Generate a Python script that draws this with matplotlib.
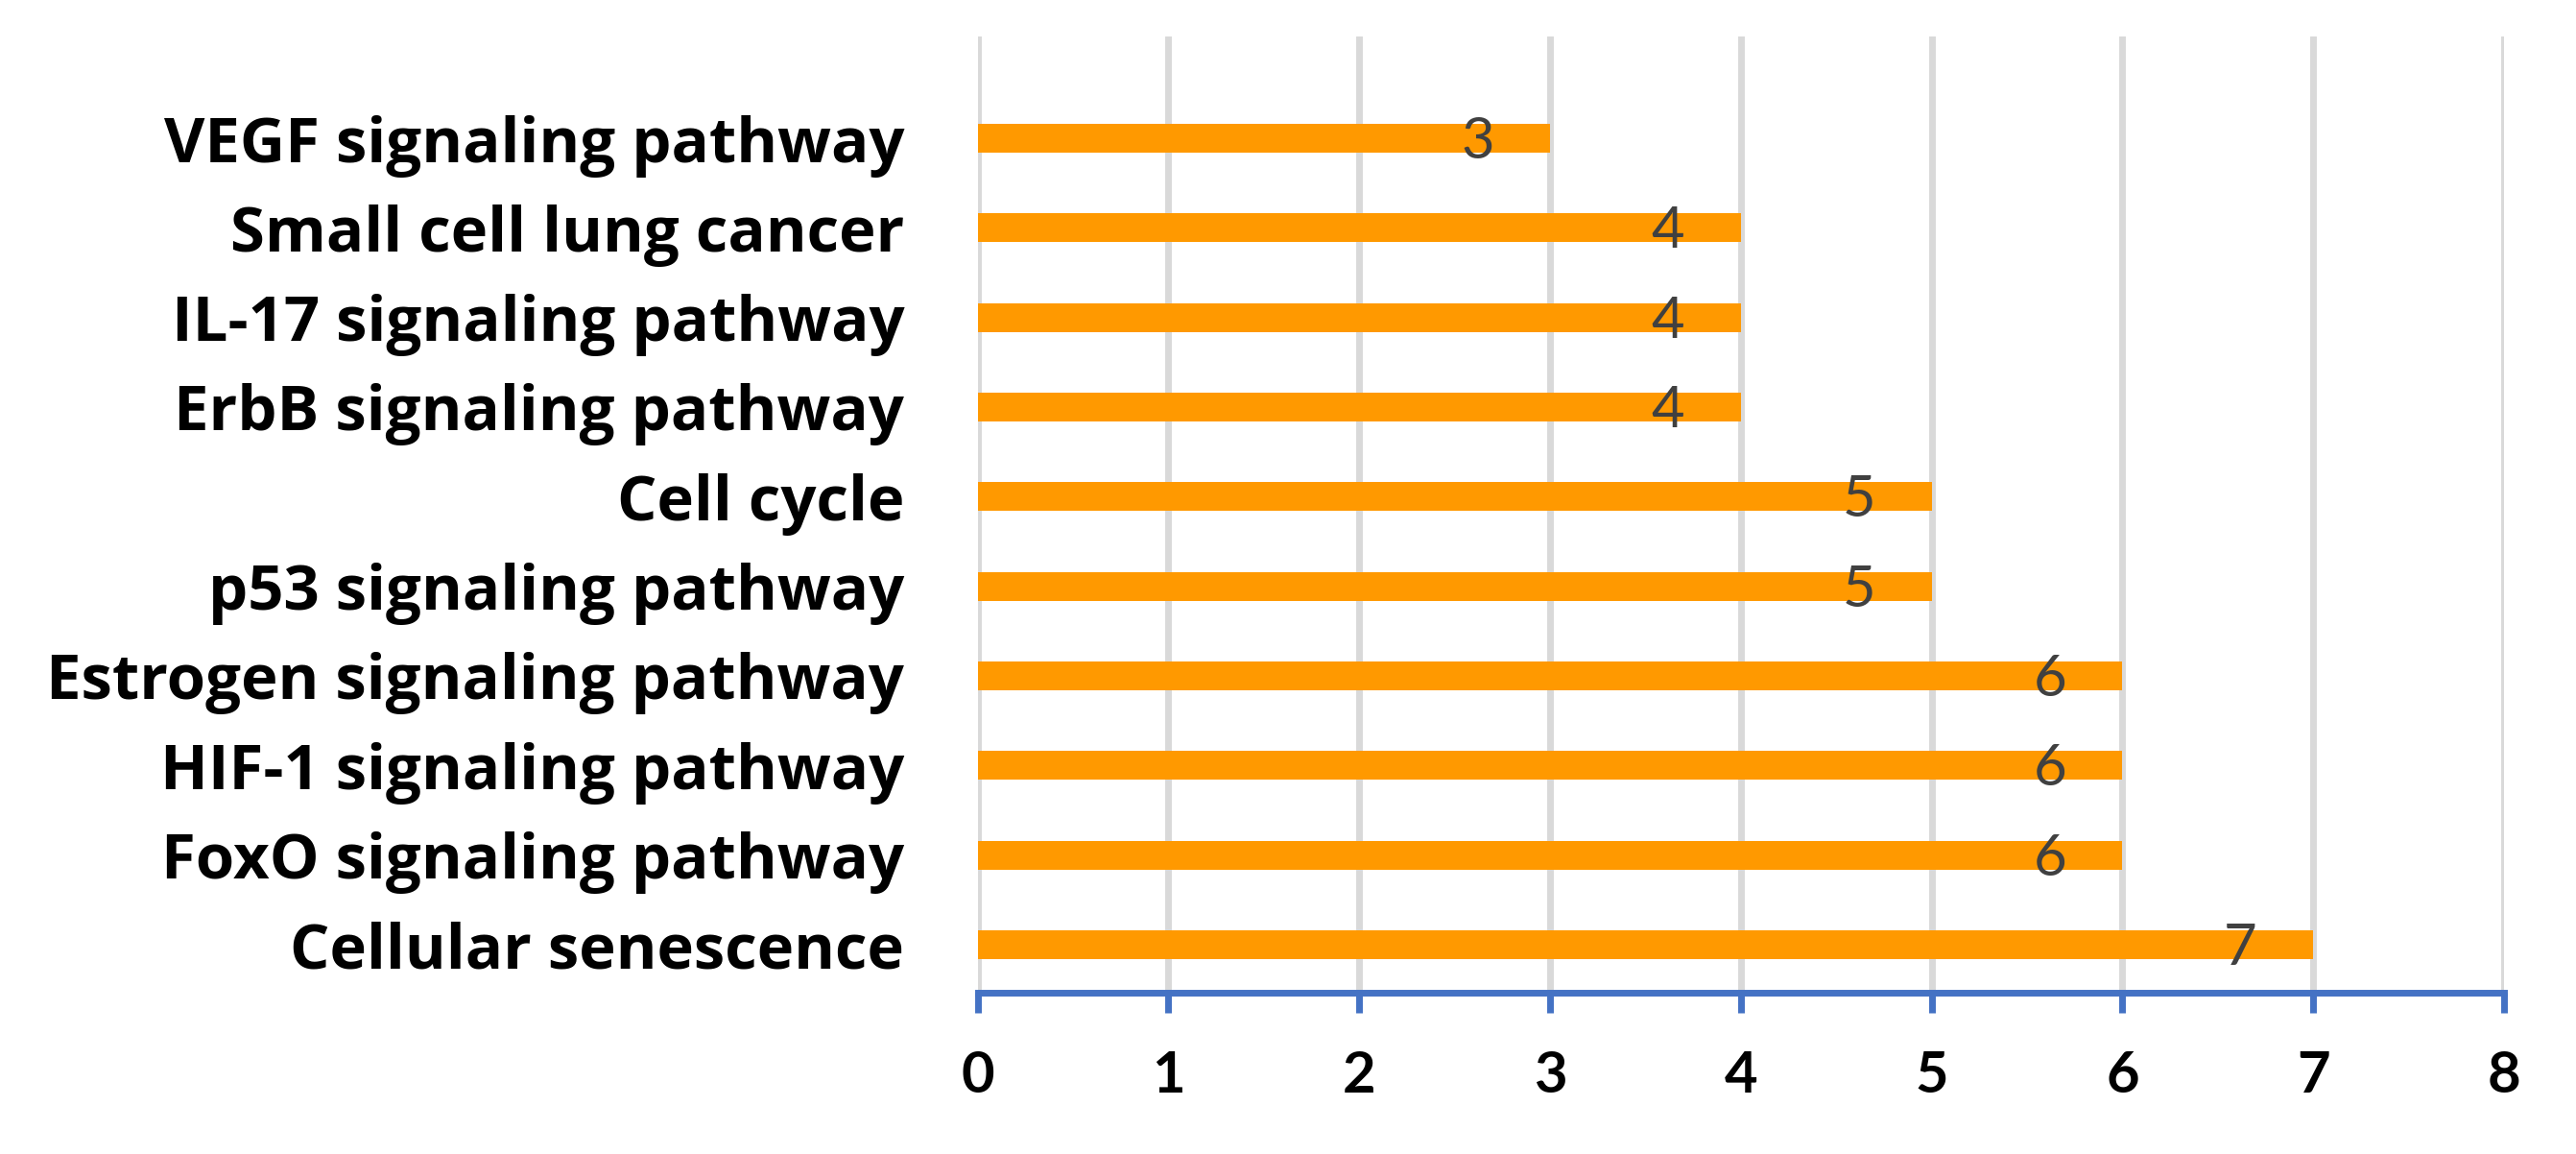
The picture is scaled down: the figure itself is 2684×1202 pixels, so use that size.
import matplotlib
matplotlib.use("Agg")
import matplotlib.pyplot as plt

categories = ["Cellular senescence", "FoxO signaling pathway", "HIF-1 signaling pathway",
              "Estrogen signaling pathway", "p53 signaling pathway", "Cell cycle",
              "ErbB signaling pathway", "IL-17 signaling pathway", "Small cell lung cancer",
              "VEGF signaling pathway"]
counts = [7, 6, 6, 6, 5, 5, 4, 4, 4, 3]
xticks = [0, 1, 2, 3, 4, 5, 6, 7, 8]

plt.rcParams['font.family'] = ['Lato', 'DejaVu Sans']

fig = plt.figure(figsize=(26.84, 12.02), dpi=100)
ax = fig.add_axes([0.3795, 0.1398, 0.5926, 0.8286])

ypos = list(range(len(categories)))
ax.barh(ypos, counts, height=0.32, color='#FF9900', zorder=3)

for y, v in zip(ypos, counts):
    ax.annotate(str(v), xy=(v, y), xytext=(-54.5, -3), textcoords='offset points',
                ha='center', va='center', fontsize=43, color='#404040', zorder=4)

ax.set_xlim(0, 8)
ax.set_ylim(-0.536, 10.136)
ax.set_xticks(xticks)
ax.set_xticklabels([str(t) for t in xticks], fontsize=43, fontweight='bold', color='black')
ax.set_yticks(ypos)
ax.set_yticklabels(categories, fontsize=47, fontweight='bold', color='black',
                   family=['Open Sans', 'DejaVu Sans'])

ax.grid(axis='x', color='#D9D9D9', linewidth=5, zorder=0)
ax.grid(axis='y', visible=False)
for s in ['top', 'right', 'left']:
    ax.spines[s].set_visible(False)
ax.spines['bottom'].set_color('#4472C4')
ax.spines['bottom'].set_linewidth(5)
ax.spines['bottom'].set_zorder(5)
ax.tick_params(axis='x', direction='out', length=15, width=5, color='#4472C4', pad=28)
ax.tick_params(axis='y', length=0, pad=55)

fig.savefig("out.png", dpi=100, facecolor='white')
